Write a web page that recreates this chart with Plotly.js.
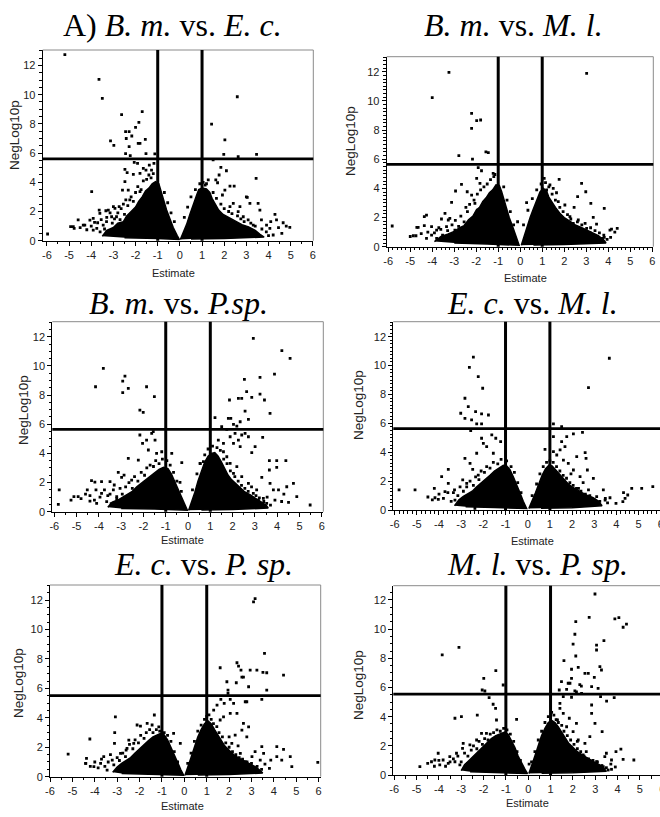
<!DOCTYPE html>
<html><head><meta charset="utf-8">
<script src="https://cdn.plot.ly/plotly-3.0.1.min.js"></script>
<style>html,body{margin:0;padding:0;background:#fff;overflow:hidden;width:660px;height:817px}#chart{width:680px;height:817px}</style>
</head><body><div id="chart"></div>
<script>
// ---------------- DATA ----------------
const panelTitles = [
  'A) <i>B. m.</i> vs. <i>E. c.</i>',
  '<i>B. m.</i> vs. <i>M. l.</i>',
  '<i>B. m.</i> vs. <i>P.sp.</i>',
  '<i>E. c.</i> vs. <i>M. l.</i>',
  '<i>E. c.</i> vs. <i>P. sp.</i>',
  '<i>M. l.</i> vs. <i>P. sp.</i>'
];
const xAxisTitle = 'Estimate';
const yAxisTitle = 'NegLog10p';
const xTickVals = [-6,-5,-4,-3,-2,-1,0,1,2,3,4,5,6];
const xTickText = ['-6','-5','-4','-3','-2','-1','0','1','2','3','4','5','6'];
const yTickVals = [0,2,4,6,8,10,12];
const yTickText = ['0','2','4','6','8','10','12'];
const foldLines = [-1, 1];
const sigThreshold = [5.6, 5.65, 5.65, 5.63, 5.5, 5.55];

// saturated (solid) cores of the point clouds: [estimate, negLog10p] outline
const p1LeftCore = [[-3.5,0.3],[-3.3,0.7],[-3.0,0.9],[-2.8,1.2],[-2.55,1.3],[-2.4,1.7],[-2.2,2.0],[-2.0,2.3],[-1.85,2.7],[-1.7,3.0],[-1.55,3.4],[-1.4,3.6],[-1.25,3.9],[-1.1,4.05],[-0.95,3.9],[-0.85,3.4],[-0.75,2.8],[-0.6,2.1],[-0.45,1.5],[-0.3,0.9],[-0.12,0.35],[-0.02,0.08],[-1.0,0.15],[-2.5,0.2]];
const p1RightCore = [[0.02,0.08],[0.15,0.5],[0.3,1.1],[0.45,1.8],[0.6,2.5],[0.75,3.1],[0.85,3.5],[1.0,3.6],[1.2,3.55],[1.35,3.3],[1.45,2.9],[1.6,2.5],[1.75,2.1],[1.95,1.8],[2.2,1.6],[2.5,1.35],[2.8,1.1],[3.1,0.95],[3.4,0.7],[3.6,0.45],[3.8,0.25],[2.0,0.15],[0.5,0.12]];
const p2LeftCore = [[-3.9,0.35],[-3.6,0.7],[-3.3,0.85],[-3.0,1.05],[-2.75,1.3],[-2.55,1.45],[-2.35,1.85],[-2.15,2.1],[-2.0,2.5],[-1.85,2.7],[-1.7,3.1],[-1.55,3.35],[-1.4,3.7],[-1.25,3.9],[-1.1,4.25],[-0.95,4.2],[-0.85,3.8],[-0.75,3.3],[-0.65,2.7],[-0.5,2.0],[-0.35,1.4],[-0.2,0.8],[-0.05,0.1],[-1.5,0.18],[-3.0,0.25]];
const p2RightCore = [[0.05,0.1],[0.15,0.6],[0.3,1.3],[0.45,2.0],[0.6,2.6],[0.75,3.2],[0.9,3.75],[1.05,4.0],[1.2,3.8],[1.3,3.4],[1.45,3.0],[1.6,2.7],[1.8,2.3],[2.0,2.0],[2.25,1.75],[2.5,1.5],[2.8,1.3],[3.05,1.1],[3.3,0.9],[3.55,0.75],[3.8,0.45],[3.9,0.25],[2.0,0.15],[0.6,0.12]];
const p3LeftCore = [[-3.6,0.3],[-3.4,0.65],[-3.15,0.8],[-2.95,1.0],[-2.7,1.2],[-2.5,1.4],[-2.3,1.7],[-2.1,1.95],[-1.9,2.2],[-1.7,2.45],[-1.5,2.7],[-1.3,2.9],[-1.1,3.05],[-0.9,2.95],[-0.75,2.6],[-0.6,2.1],[-0.45,1.6],[-0.3,1.0],[-0.15,0.5],[-0.03,0.1],[-1.5,0.18],[-3.0,0.22]];
const p3RightCore = [[0.03,0.1],[0.15,0.6],[0.3,1.3],[0.45,2.1],[0.6,2.8],[0.75,3.4],[0.9,3.8],[1.05,4.0],[1.2,4.05],[1.35,3.8],[1.5,3.4],[1.65,2.9],[1.8,2.5],[1.95,2.2],[2.15,1.9],[2.35,1.6],[2.55,1.35],[2.8,1.15],[3.05,0.9],[3.3,0.7],[3.5,0.45],[3.6,0.25],[2.0,0.15],[0.6,0.12]];
const p4LeftCore = [[-3.3,0.3],[-3.1,0.7],[-2.9,0.95],[-2.7,1.15],[-2.5,1.3],[-2.3,1.6],[-2.1,1.85],[-1.9,2.1],[-1.7,2.4],[-1.5,2.7],[-1.3,2.9],[-1.1,3.1],[-0.95,3.05],[-0.8,2.8],[-0.65,2.3],[-0.5,1.8],[-0.35,1.2],[-0.2,0.6],[-0.05,0.1],[-1.5,0.18],[-2.8,0.22]];
const p4RightCore = [[0.05,0.1],[0.2,0.6],[0.35,1.2],[0.5,1.8],[0.65,2.4],[0.8,2.85],[0.95,3.1],[1.1,3.05],[1.25,2.8],[1.4,2.5],[1.6,2.15],[1.8,1.85],[2.0,1.6],[2.2,1.4],[2.45,1.2],[2.7,1.0],[2.95,0.85],[3.2,0.6],[3.35,0.3],[2.0,0.15],[0.6,0.12]];
const p5LeftCore = [[-3.2,0.3],[-3.0,0.65],[-2.8,0.9],[-2.6,1.1],[-2.4,1.3],[-2.2,1.6],[-2.0,1.9],[-1.8,2.2],[-1.6,2.45],[-1.4,2.7],[-1.2,2.85],[-1.05,2.95],[-0.9,2.85],[-0.75,2.5],[-0.6,2.0],[-0.45,1.45],[-0.3,0.9],[-0.15,0.45],[-0.03,0.1],[-1.5,0.18],[-2.8,0.22]];
const p5RightCore = [[0.03,0.1],[0.15,0.6],[0.3,1.3],[0.45,2.0],[0.6,2.7],[0.75,3.2],[0.9,3.6],[1.05,3.8],[1.2,3.6],[1.35,3.2],[1.5,2.8],[1.65,2.45],[1.8,2.1],[2.0,1.8],[2.2,1.5],[2.45,1.25],[2.7,1.05],[2.95,0.85],[3.2,0.65],[3.4,0.4],[3.5,0.25],[2.0,0.15],[0.6,0.12]];
const p6LeftCore = [[-3.0,0.3],[-2.85,0.7],[-2.65,1.0],[-2.45,1.3],[-2.25,1.6],[-2.05,1.9],[-1.85,2.2],[-1.65,2.5],[-1.45,2.7],[-1.25,2.85],[-1.05,2.95],[-0.9,2.8],[-0.75,2.4],[-0.6,1.9],[-0.45,1.3],[-0.3,0.8],[-0.15,0.4],[-0.03,0.1],[-1.5,0.18],[-2.6,0.22]];
const p6RightCore = [[0.03,0.1],[0.15,0.6],[0.3,1.3],[0.45,2.0],[0.6,2.7],[0.75,3.2],[0.9,3.6],[1.05,3.75],[1.2,3.6],[1.35,3.3],[1.5,2.9],[1.65,2.55],[1.8,2.2],[2.0,1.9],[2.2,1.6],[2.45,1.35],[2.7,1.1],[2.95,0.9],[3.2,0.7],[3.4,0.45],[3.5,0.25],[2.0,0.15],[0.6,0.12]];

// individually visible genes: [estimate, negLog10p]
const p1Points = [[-5.19,12.74],[-3.65,11.05],[-3.5,9.75],[-2.63,8.63],[-1.7,8.84],[-1.85,8.1],[-2.0,7.76],[-2.45,7.47],[-2.29,7.47],[-2.17,7.17],[-2.42,7.0],[-3.13,6.83],[-2.98,6.53],[-1.88,6.67],[-1.8,6.67],[-2.29,6.44],[-1.56,6.94],[-2.45,5.96],[-2.24,5.82],[-1.53,5.96],[-1.13,5.94],
[-2.06,5.37],[-1.91,5.3],[-2.48,4.89],[-2.1,4.54],[-2.38,4.66],[-1.8,4.61],[-1.53,4.84],[-1.38,5.18],[-1.65,4.95],[-1.17,5.3],[-1.28,4.84],
[-3.98,3.36],[-2.48,4.04],[-2.59,3.47],[-2.33,3.47],[-1.8,3.36],[-2.26,2.79],[-2.44,2.79],[-2.74,2.33],[-2.93,2.21],[-3.23,2.1],[-3.64,2.1],[-3.91,1.53],[-4.81,0.96],[-4.77,0.84],[-4.59,1.42],[-4.36,1.07],[-3.91,0.73],[-3.46,1.07],[-3.31,1.3],[-3.08,1.64],[-2.86,1.64],[-5.97,0.46],[-4.93,0.96],[-4.29,1.07],[-4.06,1.41],[-3.71,1.23],[-3.61,1.87],[-3.34,2.05],[-3.0,2.33],
[1.43,7.99],[2.59,9.86],[2.03,6.9],[3.46,5.91],[1.98,5.91],[2.63,5.75],[1.5,5.53],[1.85,5.02],[2.1,4.79],[3.44,4.27],[1.77,4.5],[1.62,4.16],[2.26,3.74],[2.45,3.74],[2.03,3.47],[1.14,3.81],[1.92,3.13],[3.04,2.97],[3.16,2.56],[2.41,2.56],[2.71,2.33],[3.53,2.56],[3.61,2.1],[4.29,1.8],[4.36,1.42],[4.66,1.23],[4.96,0.91],[4.06,0.84],[4.21,0.39],[3.68,1.42],[3.31,1.07],[3.91,1.07],[2.86,1.64],[3.08,1.42],[2.63,1.99],[2.26,2.33],[1.7,3.97],[1.28,4.16],[3.0,3.0]];
const p1Fringe = [[-4.5,0.9],[-4.2,0.75],[-4.0,1.0],[-3.85,1.25],[-3.75,0.85],[-3.6,0.6],[-3.55,1.45],[-3.4,0.8],[-3.3,1.6],[-3.2,0.55],[-3.15,1.9],[-3.05,1.2],[-2.95,1.5],[-2.8,1.9],[-2.7,1.45],[-2.65,2.2],[-2.55,2.5],[-2.5,1.8],[-2.35,2.4],[-2.2,3.0],[-2.1,2.7],[-2.0,3.3],[-1.9,3.7],[-1.75,3.5],[-1.65,4.1],[-1.5,4.2],[-1.4,4.5],[-1.3,4.3],[-1.2,4.6],[-0.7,3.3],[-0.55,2.6],[-0.4,1.9],[-0.25,1.3],
[0.2,1.6],[0.35,2.3],[0.5,3.0],[0.7,3.5],[0.9,3.9],[1.05,4.0],[1.2,3.9],[1.5,3.3],[1.65,2.9],[1.85,2.5],[2.0,2.2],[2.2,2.0],[2.35,1.85],[2.6,1.7],[2.75,1.5],[2.9,1.3],[3.2,1.2],[3.4,1.0],[3.7,0.8],[3.9,0.6],[4.0,0.35],[3.55,0.35],[3.2,0.45],[4.45,0.9],[4.1,1.3],[4.6,0.5],[4.8,1.0]];

const p2Points = [[-3.24,11.95],[-4.0,10.22],[-2.21,9.14],[-1.8,8.69],[-1.98,8.64],[-2.21,8.11],[-2.79,6.24],[-2.17,6.01],[-1.56,6.5],[-1.45,6.45],[3.02,11.89],
[-1.91,5.42],[-1.76,5.21],[-1.23,5.03],[-1.15,4.95],[-1.98,4.69],[-1.83,4.34],[-2.67,4.27],[-2.94,3.82],[-2.41,3.77],[-3.12,3.04],[-2.21,3.54],[-2.06,2.97],[-1.95,2.51],[-2.47,2.7],[-3.42,2.29],[-4.36,2.06],[-4.26,2.17],[-4.64,1.33],[-4.7,1.33],[-4.86,0.75],[-4.74,0.75],[-4.26,0.57],[-5.82,1.42],[-4.36,1.44],[-4.03,1.37],[-3.58,1.9],[-3.8,1.14],[-3.61,1.19],[-3.27,1.83],[-3.35,1.37],[-3.2,1.94],[-3.53,0.8],[-4.03,0.8],[-3.8,0.57],[-2.97,1.14],
[1.09,4.69],[1.77,4.62],[2.79,4.34],[2.98,3.77],[1.35,4.23],[1.5,4.0],[1.65,3.7],[1.2,3.89],[0.29,3.02],[2.61,3.43],[3.21,2.97],[3.82,2.63],[2.03,2.86],[2.45,2.7],[3.32,2.01],[3.47,1.55],[4.08,1.14],[4.41,1.26],[3.82,0.64],[4.11,0.64],[3.02,1.26],[3.17,0.96],[2.79,0.91],[2.64,1.83],[2.26,2.06],[2.41,1.6],[-0.12,1.71],[1.73,3.09],[3.74,0.57],[4.15,1.2]];
const p2Fringe = [[-5.0,0.7],[-4.5,0.9],[-4.2,1.0],[-3.9,0.95],[-3.7,1.3],[-3.4,0.6],[-3.3,1.1],[-3.1,1.5],[-2.95,1.8],[-2.8,1.4],[-2.7,2.1],[-2.55,1.7],[-2.4,2.4],[-2.3,2.9],[-2.1,3.2],[-1.95,3.6],[-1.8,3.9],[-1.65,4.1],[-1.5,4.3],[-1.35,4.6],[-1.2,4.8],[-0.75,4.1],[-0.6,3.2],[-0.45,2.4],[-0.3,1.5],
[0.15,1.5],[0.35,2.5],[0.55,3.3],[0.75,3.9],[0.95,4.3],[1.15,4.4],[1.3,4.1],[1.45,3.6],[1.6,3.2],[1.8,2.7],[1.95,2.4],[2.15,2.2],[2.3,1.9],[2.6,1.7],[2.8,1.5],[2.95,1.6],[3.2,1.3],[3.4,1.1],[3.6,0.95],[3.8,0.8],[3.95,0.5],[4.3,1.0]];

const p3Points = [[-3.8,9.83],[-4.15,8.57],[-2.83,9.3],[-2.93,8.96],[-2.93,8.16],[-2.68,8.46],[-1.86,8.57],[-1.51,7.89],[-2.16,6.97],[-2.01,6.81],
[2.93,11.89],[4.21,11.04],[4.58,10.51],[3.88,9.44],[3.23,9.21],[2.53,9.07],[2.63,8.23],[3.23,8.07],[3.43,7.66],[2.86,7.84],[2.26,7.77],[2.41,7.77],[1.86,7.66],[3.68,6.74],[2.56,6.9],[1.81,6.4],[1.92,6.4],[1.21,6.45],[2.34,6.17],[2.71,6.33],[2.04,5.99],[2.19,5.87],[1.51,5.83],[1.74,5.65],
[2.11,5.37],[1.89,5.14],[2.41,5.26],[2.56,5.37],[2.71,5.14],[2.26,4.91],[3.35,5.1],[3.01,4.46],[2.86,4.05],[2.04,4.69],[2.34,4.46],[1.36,4.91],[1.59,4.69],[3.98,3.5],[4.39,3.5],[3.65,3.5],[3.98,3.04],[3.65,2.86],[3.31,2.35],[3.68,1.94],[4.73,1.94],[4.88,1.03],[4.43,1.71],[4.51,0.64],[5.48,0.46],[3.53,0.57],[3.83,1.49],[4.06,1.49],[3.38,0.91],[3.08,1.49],[3.16,0.8],[2.93,1.26],[2.71,1.03],[2.71,1.94],[2.41,2.4],[2.04,2.63],[2.19,3.09],[1.89,3.31],[1.74,3.77],[1.59,4.11],
[-5.78,1.49],[-5.82,0.5],[-5.25,0.8],[-5.12,1.03],[-4.93,1.03],[-4.52,1.49],[-4.4,0.73],[-4.33,2.13],[-4.18,2.03],[-4.13,1.49],[-4.1,0.57],[-3.88,2.06],[-3.88,1.26],[-3.5,2.06],[-3.65,0.69],[-3.5,1.21],[-3.31,1.83],[-3.13,2.7],[-2.98,2.35],[-3.2,1.03],[-2.68,3.66],[-2.87,2.51],[-2.53,2.17],[-2.23,3.54],[-2.16,5.26],[-2.04,4.69],[-1.86,4.91],[-1.63,5.37],[-1.56,5.49],[-1.48,4.91],[-1.78,4.23],[-1.41,4.0],[-1.18,4.11],[-0.73,4.0],[-0.28,3.36],[-0.36,2.01],[0.54,3.31],[0.69,3.43]];
const p3Fringe = [[-4.8,0.9],[-4.6,1.2],[-4.4,1.1],[-4.2,0.8],[-3.95,1.0],[-3.75,1.5],[-3.6,1.1],[-3.45,0.55],[-3.35,1.5],[-3.2,0.9],[-3.05,1.6],[-2.95,1.2],[-2.8,1.7],[-2.65,2.0],[-2.5,1.6],[-2.4,2.4],[-2.25,2.1],[-2.1,2.7],[-1.95,2.5],[-1.85,3.0],[-1.7,3.2],[-1.55,3.1],[-1.45,3.5],[-1.3,3.3],[-1.15,3.6],[-0.95,3.5],[-0.8,3.2],[-0.65,2.7],[-0.5,2.1],[-0.3,1.4],
[0.2,1.5],[0.4,2.6],[0.55,3.3],[0.75,3.9],[0.9,4.3],[1.1,4.5],[1.3,4.4],[1.45,4.2],[1.6,3.6],[1.75,3.3],[1.9,2.8],[2.1,2.4],[2.25,2.1],[2.4,1.8],[2.55,1.6],[2.7,1.4],[2.85,1.7],[3.05,1.1],[3.2,0.95],[3.4,0.7],[3.55,1.0],[3.7,0.45],[3.9,0.8],[4.2,0.7],[4.3,1.2]];

const p4Points = [[-2.45,10.58],[-2.63,9.88],[-2.23,9.24],[-2.03,8.43],[-2.83,7.74],[-2.68,7.16],[-3.02,6.7],[-2.35,6.81],[-2.08,6.65],[-1.77,6.58],[-2.83,6.35],[-2.53,6.24],[-2.3,5.96],[-2.08,5.96],[-2.57,5.5],
[3.68,10.51],[2.74,8.48],[1.16,5.96],[1.53,5.77],[2.47,5.38],[2.06,5.27],[1.16,5.08],[1.76,5.08],[1.53,4.73],[1.68,4.39],[1.46,4.16],[1.16,4.04],[0.78,4.2],[2.21,3.7],[2.59,3.97],[2.63,3.58],[2.69,2.77],[2.96,2.19],[1.31,3.81],[1.61,3.46],[1.83,3.23],[2.06,2.77],[2.36,2.31],[2.29,1.5],[2.74,1.39],[3.11,0.92],[3.41,1.39],[3.71,0.85],[3.98,0.46],[4.32,1.2],[4.39,0.81],[4.51,1.04],[4.69,1.5],[5.14,1.5],[5.64,1.62],[4.29,0.58],[3.11,0.46],[3.49,0.69],
[-5.8,1.39],[-5.08,1.39],[-4.21,1.5],[-4.03,0.74],[-4.18,0.85],[-3.88,2.31],[-3.58,2.82],[-3.58,1.85],[-3.73,1.27],[-3.35,1.2],[-3.28,0.69],[-2.93,2.08],[-2.75,1.85],[-2.83,3.58],[-2.6,3.23],[-2.3,3.93],[-2.48,2.82],[-2.08,4.97],[-2.0,4.62],[-1.62,5.2],[-1.44,4.97],[-1.22,4.73],[-1.85,4.39],[-1.55,3.93],[-2.23,2.42],[-2.38,0.12]];
const p4Fringe = [[-4.5,0.9],[-4.3,0.7],[-4.0,1.1],[-3.8,0.8],[-3.6,1.2],[-3.45,0.6],[-3.3,1.4],[-3.15,1.0],[-3.05,1.6],[-2.9,1.3],[-2.75,1.6],[-2.6,2.0],[-2.45,1.7],[-2.35,2.3],[-2.2,2.1],[-2.1,2.7],[-1.95,2.6],[-1.85,3.0],[-1.7,2.9],[-1.55,3.3],[-1.35,3.2],[-1.2,3.5],[-0.95,3.4],[-0.75,3.0],[-0.6,2.6],[-0.45,1.9],[-0.3,1.2],
[0.2,1.0],[0.4,1.8],[0.55,2.5],[0.7,3.0],[0.85,3.3],[1.0,3.4],[1.15,3.3],[1.3,3.0],[1.45,2.7],[1.6,2.4],[1.75,2.2],[1.9,1.9],[2.05,1.7],[2.2,1.5],[2.4,1.3],[2.6,1.1],[2.8,1.0],[3.0,0.7],[3.25,0.6],[3.5,0.8],[3.6,0.5],[2.5,1.9],[1.95,2.5]];

const p5Points = [[3.16,12.1],[3.09,11.88],[3.58,8.37],[2.35,7.74],[2.42,7.51],[1.6,7.4],[2.94,7.24],[3.24,7.24],[3.51,7.08],[3.68,7.06],[2.53,7.24],[4.43,6.9],[2.57,6.76],[2.64,6.76],[1.9,6.45],[2.32,6.38],[2.87,6.11],[3.68,5.88],[1.95,5.88],[1.95,5.66],[3.46,5.25],[1.63,5.25],[2.05,5.25],[1.78,4.98],[2.2,4.98],[2.35,4.3],[2.72,5.09],[2.79,5.09],[1.46,4.86],[1.31,4.52],[1.75,4.07],[2.05,4.3],[1.6,3.85],[2.64,3.62],[2.57,3.17],[2.87,3.39],[2.27,2.83],[2.12,2.26],[2.79,2.71],[3.46,2.04],[3.16,1.7],[3.54,1.58],[4.13,2.04],[4.43,1.86],[4.13,1.36],[3.86,1.13],[3.8,0.57],[4.35,1.13],[4.73,1.36],[4.8,0.68],[5.96,0.97],[3.16,0.57],[2.87,0.45],[3.39,1.13],[2.72,1.02],[3.02,1.36],[2.5,1.58],
[-3.08,4.07],[-1.34,4.19],[-3.11,2.99],[-3.12,2.26],[-4.22,2.56],[-5.19,1.54],[-4.37,1.24],[-4.41,0.9],[-4.04,0.68],[-3.74,0.9],[-3.6,1.36],[-3.45,0.45],[-3.22,1.13],[-2.85,1.58],[-2.48,2.49],[-2.26,2.26],[-2.11,3.51],[-1.96,3.44],[-2.56,1.92],[-2.63,1.36],[-1.66,3.62],[-1.44,3.51],[-1.14,3.39],[-0.48,2.94],[-0.18,2.26]];
const p5Fringe = [[-4.4,0.9],[-4.2,0.7],[-4.0,1.0],[-3.85,0.6],[-3.7,1.2],[-3.55,0.7],[-3.4,1.0],[-3.3,1.5],[-3.15,0.8],[-3.0,1.3],[-2.9,1.1],[-2.75,1.6],[-2.6,1.8],[-2.45,2.2],[-2.3,1.9],[-2.2,2.5],[-2.05,2.3],[-1.95,2.8],[-1.8,2.6],[-1.7,3.0],[-1.55,3.2],[-1.4,3.0],[-1.25,3.2],[-1.1,3.1],[-0.9,3.0],[-0.75,2.8],[-0.6,2.4],[-0.45,1.7],[-0.3,1.0],
[0.15,0.9],[0.3,1.6],[0.45,2.4],[0.6,3.1],[0.75,3.5],[0.9,3.9],[1.0,4.1],[1.1,4.2],[1.2,3.9],[1.3,3.6],[1.45,3.4],[1.55,3.0],[1.7,2.7],[1.85,2.3],[2.0,2.0],[2.15,1.7],[2.3,1.5],[2.45,1.3],[2.6,1.2],[2.8,1.0],[3.0,0.9],[3.25,0.7],[3.45,0.5],[3.6,0.85],[2.4,2.1],[2.0,2.7]];

const p6Points = [[2.99,12.41],[2.73,10.81],[2.13,10.51],[3.88,10.7],[4.06,10.79],[4.25,10.13],[4.4,10.35],[2.09,9.65],[3.39,9.21],[2.01,8.98],[3.06,8.91],[3.06,8.57],[2.13,8.16],[1.6,7.84],[2.24,7.38],[3.21,7.43],[3.28,7.2],[1.94,7.25],[2.54,6.97],[2.69,6.97],[2.96,6.7],[1.94,6.63],[1.49,6.4],[1.79,6.29],[1.87,6.29],[2.31,6.2],[2.38,6.1],[2.84,6.06],[3.13,5.94],[1.39,5.83],[1.72,5.87],[2.09,5.77],[2.16,5.7],[2.39,5.6],[1.57,5.37],[1.94,5.33],[3.24,5.37],[3.51,5.07],[3.85,5.3],[1.42,4.91],[2.84,4.8],[1.42,4.57],[1.57,4.23],[1.31,3.77],[2.16,3.54],[1.84,3.89],[2.99,3.54],[3.31,2.97],[2.84,4.23],[2.76,2.63],[2.54,2.17],[2.24,2.4],[2.01,2.97],[1.72,3.31],[3.93,1.6],[4.15,1.78],[4.25,1.07],[4.73,1.03],[3.73,1.03],[3.43,1.26],[3.5,1.49],[3.06,0.91],[3.36,0.57],[3.73,0.39],[3.58,0.34],[2.91,0.8],[2.61,1.03],[2.46,1.37],
[-3.85,8.23],[-3.1,8.75],[-1.45,7.15],[-1.99,6.63],[-2.06,5.83],[-1.94,5.76],[-1.12,6.17],[-1.75,5.3],[-1.57,4.85],[-1.46,4.57],[-2.99,4.0],[-3.28,3.89],[-2.28,4.11],[-0.52,3.82],[-1.42,3.77],[-1.87,2.86],[-2.09,2.86],[-2.31,2.4],[-2.61,2.06],[-2.91,2.17],[-2.94,1.83],[-3.21,1.49],[-3.51,1.26],[-4.03,1.49],[-3.81,1.03],[-4.18,1.03],[-3.96,0.69],[-3.58,0.8],[-3.28,0.91],[-3.06,0.69],[-4.85,0.57],[-4.33,0.91],[-2.72,0.8],[0.04,0.75]];
const p6Fringe = [[-4.5,0.8],[-4.2,0.6],[-4.0,1.0],[-3.7,0.6],[-3.5,0.9],[-3.35,1.1],[-3.15,1.3],[-3.0,0.9],[-2.85,1.5],[-2.7,1.3],[-2.55,1.7],[-2.45,2.0],[-2.3,1.8],[-2.2,2.3],[-2.05,2.1],[-1.95,2.5],[-1.8,2.4],[-1.7,2.8],[-1.55,2.9],[-1.4,3.1],[-1.25,3.0],[-1.1,3.2],[-0.95,3.1],[-0.8,2.8],[-0.65,2.3],[-0.5,1.6],[-0.35,1.0],
[0.15,0.9],[0.3,1.6],[0.45,2.4],[0.6,3.0],[0.75,3.6],[0.9,4.0],[1.05,4.3],[1.15,4.1],[1.25,3.8],[1.35,3.6],[1.5,3.4],[1.6,3.0],[1.75,2.7],[1.9,2.4],[2.05,2.1],[2.2,1.8],[2.35,1.6],[2.5,1.3],[2.7,1.1],[2.9,1.0],[3.1,0.9],[3.3,0.65],[3.5,0.5],[3.7,0.75],[3.9,0.55],[2.6,1.6],[2.2,2.3]];

const leftCores = [p1LeftCore, p2LeftCore, p3LeftCore, p4LeftCore, p5LeftCore, p6LeftCore];
const rightCores = [p1RightCore, p2RightCore, p3RightCore, p4RightCore, p5RightCore, p6RightCore];
const pointSets = [p1Points.concat(p1Fringe), p2Points.concat(p2Fringe), p3Points.concat(p3Fringe),
                   p4Points.concat(p4Fringe), p5Points.concat(p5Fringe), p6Points.concat(p6Fringe)];

// ---------------- LAYOUT (pixel geometry) ----------------
const W = 680, H = 817;
const frames = [
  {l:42.7, r:313.3, t:50,    b:240.7, xr:[-6.19,6.02], yr:[0,13.06], ymin:0.5},
  {l:386.7,r:653.3, t:56.7,  b:246.7, xr:[-6.07,6.05], yr:[0,13.03], ymin:0.25},
  {l:52.3, r:323.3, t:321.7, b:511.7, xr:[-6.09,6.07], yr:[0,13.03], ymin:0.5},
  {l:393.3,r:663,   t:321.7, b:510,   xr:[-6.06,6.1],  yr:[0,13.04], ymin:0.25},
  {l:50,   r:320.7, t:585,   b:776.7, xr:[-6.0,6.09],  yr:[0,13.02], ymin:0.5},
  {l:393.3,r:664,   t:585.7, b:775,   xr:[-6.04,6.08], yr:[0,12.98], ymin:0.5}
];
const titlePos = [[172.5,25],[513.5,25],[178.5,303],[532.5,303],[203,564],[537.5,564]];
const xTitlePos = [[173,273],[525,278],[182,540],[532,541],[182,806],[527,803]];
const yTitlePos = [[15,135],[350,141],[23,410],[358,405],[18,683],[358,685]];

const px = v => v / W;
const py = v => (H - v) / H;
const tickFont = {family:'Liberation Sans, Arial, sans-serif', size:11, color:'#222'};

const traces = [];
const layout = {
  width: W, height: H, margin:{l:0,r:0,t:0,b:0}, showlegend:false,
  paper_bgcolor:'#fff', plot_bgcolor:'#fff', shapes:[], annotations:[]
};

frames.forEach((f, i) => {
  const n = i === 0 ? '' : String(i + 1);
  const xref = 'x' + n, yref = 'y' + n;
  [leftCores[i], rightCores[i]].forEach(core => {
    traces.push({
      type:'scatter', mode:'lines', xaxis:xref, yaxis:yref,
      x: core.map(p => p[0]), y: core.map(p => p[1]),
      fill:'toself', fillcolor:'#000', line:{color:'#000', width:1.5}, hoverinfo:'skip'
    });
  });
  traces.push({
    type:'scatter', mode:'markers', xaxis:xref, yaxis:yref,
    x: pointSets[i].map(p => p[0]), y: pointSets[i].map(p => p[1]),
    marker:{symbol:'square', size:2.8, color:'#000', line:{width:0}}, hoverinfo:'skip'
  });

  layout['xaxis' + n] = {
    domain:[px(f.l), px(f.r)], anchor:yref, range:f.xr,
    showgrid:false, zeroline:false, showline:true, linecolor:'#000', linewidth:1,
    tickmode:'array', tickvals:xTickVals, ticktext:xTickText,
    ticks:'outside', ticklen:4, tickcolor:'#000', tickfont:tickFont,
    minor:{tickmode:'linear', tick0:-6, dtick:(f.ymin === 0.25 ? 0.2 : 0.5), ticks:'outside', ticklen:2.5, tickcolor:'#000'},
    fixedrange:true
  };
  layout['yaxis' + n] = {
    domain:[py(f.b), py(f.t)], anchor:xref, range:f.yr,
    showgrid:false, zeroline:false, showline:true, linecolor:'#000', linewidth:1,
    tickmode:'array', tickvals:yTickVals, ticktext:yTickText,
    ticks:'outside', ticklen:4, tickcolor:'#000', tickfont:tickFont,
    minor:{tickmode:'linear', tick0:0, dtick:f.ymin, ticks:'outside', ticklen:2.5, tickcolor:'#000'},
    fixedrange:true
  };

  layout.shapes.push({type:'line', xref:xref + ' domain', yref:yref + ' domain', x0:0, x1:1, y0:1, y1:1, line:{color:'#8a8a8a', width:1}});
  layout.shapes.push({type:'line', xref:xref + ' domain', yref:yref + ' domain', x0:1, x1:1, y0:0, y1:1, line:{color:'#8a8a8a', width:1}});
  foldLines.forEach(v => layout.shapes.push({type:'line', xref:xref, yref:yref + ' domain', x0:v, x1:v, y0:0, y1:1, line:{color:'#000', width:3}}));
  layout.shapes.push({type:'line', xref:xref + ' domain', yref:yref, x0:0, x1:1, y0:sigThreshold[i], y1:sigThreshold[i], line:{color:'#000', width:2.8}});

  layout.annotations.push({
    text: panelTitles[i], xref:'paper', yref:'paper', x:px(titlePos[i][0]), y:py(titlePos[i][1]),
    xanchor:'center', yanchor:'middle', showarrow:false,
    font:{family:'Liberation Serif, Times New Roman, serif', size:32, color:'#000'}
  });
  layout.annotations.push({
    text: xAxisTitle, xref:'paper', yref:'paper', x:px(xTitlePos[i][0]), y:py(xTitlePos[i][1]),
    xanchor:'center', yanchor:'middle', showarrow:false,
    font:{family:'Liberation Sans, Arial, sans-serif', size:11, color:'#222'}
  });
  layout.annotations.push({
    text: yAxisTitle, xref:'paper', yref:'paper', x:px(yTitlePos[i][0]), y:py(yTitlePos[i][1]),
    xanchor:'center', yanchor:'middle', textangle:-90, showarrow:false,
    font:{family:'Liberation Sans, Arial, sans-serif', size:13.5, color:'#222'}
  });
});

Plotly.newPlot('chart', traces, layout, {displayModeBar:false, staticPlot:true});
</script>
</body></html>
